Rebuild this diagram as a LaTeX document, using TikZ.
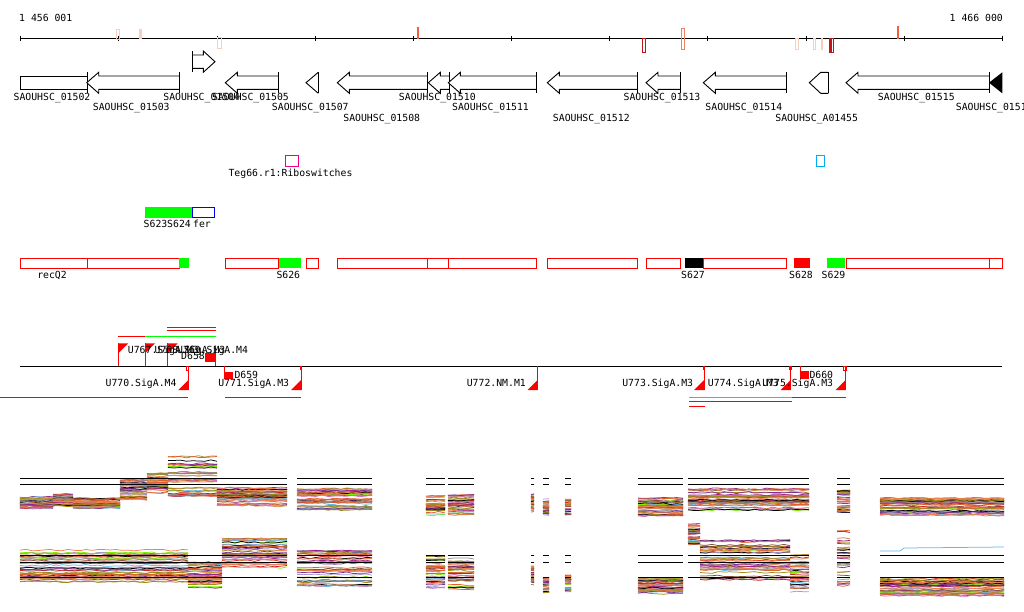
\documentclass[tikz,border=0pt]{standalone}
\usepackage{fontspec}
\setmonofont{DejaVu Sans Mono}
\usetikzlibrary{positioning}

\definecolor{peach}{HTML}{F6CFBF}
\definecolor{tickred}{HTML}{F06040}
\definecolor{darkred}{HTML}{C01818}
\definecolor{salmon}{HTML}{F08060}
\definecolor{opred}{HTML}{FF0000}
\definecolor{opgreen}{HTML}{00FF00}
\definecolor{exOrange}{HTML}{E0602C}
\definecolor{exOlive}{HTML}{9C8A1C}
\definecolor{exGreen}{HTML}{7CF000}
\definecolor{exMagenta}{HTML}{A0208C}
\definecolor{exLavender}{HTML}{A898D0}
\definecolor{exSky}{HTML}{60B8F0}
\definecolor{exBrown}{HTML}{8C4C3C}
\definecolor{exPink}{HTML}{D070B0}
\definecolor{exNavy}{HTML}{202050}
\definecolor{exRed}{HTML}{D02020}
\definecolor{exKhaki}{HTML}{B09040}
\definecolor{exGray}{HTML}{909090}
\definecolor{exCoral}{HTML}{F08050}
\definecolor{exPurple}{HTML}{803090}

\tikzset{
  lbl/.style={font=\ttfamily\fontsize{9.8}{11}\selectfont, inner sep=0pt, anchor=base},
  gene/.style={draw=black, line width=0.9pt, fill=white},
  axisline/.style={black, line width=0.9pt},
  prom/.style={opred, line width=0.9pt},
  opbox/.style={draw=opred, line width=0.9pt},
  expr/.style={line width=0.75pt, line join=round},
  refline/.style={black, line width=1pt}
}

\newcommand{\revgene}[2]{%
  \draw[gene] (#2,76) -- (#1+12,76) -- (#1+12,72.3) -- (#1,82.7) -- (#1+12,93.3) -- (#1+12,89.3) -- (#2,89.3);
  \draw[gene] (#2,72.3) -- (#2,93.3);
}
\newcommand{\fwdprom}[1]{%
  \draw[prom] (#1,366) -- (#1,343.3);
  \fill[opred] (#1,343.3) -- (#1+10,343.3) -- (#1,353.3) -- cycle;
}
\newcommand{\revprom}[1]{%
  \draw[prom] (#1,366) -- (#1,390);
  \fill[opred] (#1,390) -- (#1-10,390) -- (#1,380) -- cycle;
}
\def\exprcolors{exOrange,exOlive,exGreen,exMagenta,exLavender,exSky,exBrown,exPink,exNavy,exRed,exKhaki,exOrange,exOlive,exGray,black,exCoral,exOrange,exPurple,exOlive,exCoral}
\newcommand{\exprband}[4]{%
  \pgfmathtruncatemacro{\npts}{max(1,(#2-#1)/6)}
  \foreach \rep in {1,2} {
    \foreach \col in \exprcolors {
      \pgfmathsetmacro{\lev}{#3+rnd*(#4-#3)}
      \draw[expr,\col] (#1,\lev) \foreach \k in {1,...,\npts} { -- ({#1+\k*(#2-#1)/\npts},{\lev+0.9*rand}) };
    }
  }
}

\begin{document}
\begin{tikzpicture}[x=1pt,y=-1pt]
  \useasboundingbox[fill=white] (0,0) rectangle (1024,611);
  \pgfmathsetseed{17}

  \node[lbl, anchor=base west] (start) at (19,21) {1 456 001};
  \node[lbl, anchor=base east] (stop) at (1003,21) {1 466 000};
  \draw[axisline] (20.7,38) -- (1002.3,38);
  \foreach \t in {0,...,10}
    \draw[axisline] ({20.7+\t*98.16},35.5) -- ({20.7+\t*98.16},40.7);

  \draw[peach, line width=0.9pt] (116.7,29) rectangle (119,39);
  \fill[peach] (139.3,29) rectangle (141.5,39);
  \draw[peach, line width=0.9pt] (217.7,37) rectangle (221.3,48);
  \fill[tickred] (416.5,27) rectangle (418.7,39);
  \draw[darkred, line width=0.9pt] (642,38) rectangle (645,52.5);
  \draw[salmon, line width=0.9pt] (681,28) rectangle (684,49);
  \draw[peach, line width=0.9pt] (795,38) rectangle (798,49);
  \draw[peach, line width=0.9pt] (813,38) rectangle (815.3,49);
  \draw[peach, line width=0.9pt] (821,38) rectangle (822.7,49);
  \fill[darkred] (828.5,38) rectangle (830.5,52.5);
  \draw[darkred, line width=0.9pt] (831,38) rectangle (833.3,52.5);
  \fill[tickred] (896.7,26) rectangle (898.7,39);

  \draw[gene] (20.7,76) rectangle (87.3,89.3);
  \draw[gene] (87.3,72.3) -- (87.3,93.3);
  \revgene{86.7}{179.3}
  \draw[gene] (192.7,55) -- (203.3,55) -- (203.3,51) -- (215,61.7) -- (203.3,72.3) -- (203.3,68.3) -- (192.7,68.3);
  \draw[gene] (192.7,51) -- (192.7,72.3);
  \revgene{225.3}{278.3}
  \draw[gene] (318.3,72.3) -- (306,82.7) -- (318.3,93.3);
  \draw[gene] (318.3,72.3) -- (318.3,93.3);
  \revgene{337.3}{427.7}
  \revgene{428.3}{449.3}
  \revgene{448.3}{536}
  \revgene{547.3}{637.3}
  \revgene{646}{680}
  \revgene{703.3}{786.7}
  \draw[gene] (828.3,72.3) -- (820.7,72.3) -- (809.3,82.7) -- (820.7,93.3) -- (828.3,93.3);
  \draw[gene] (828.3,72.3) -- (828.3,93.3);
  \revgene{846}{989}
  \fill[black] (1002.3,72.3) -- (989,82.7) -- (1002.3,93.3) -- cycle;

  \node[lbl] (g01502) at (52,100.7) {SAOUHSC\_01502};
  \node[lbl] (g01503) at (131.3,110) {SAOUHSC\_01503};
  \node[lbl] (g01504) at (201.7,100.7) {SAOUHSC\_01504};
  \node[lbl] (g01505) at (250.5,100.7) {SAOUHSC\_01505};
  \node[lbl] (g01507) at (310.3,110) {SAOUHSC\_01507};
  \node[lbl] (g01508) at (381.7,121.7) {SAOUHSC\_01508};
  \node[lbl] (g01510) at (437.3,100.7) {SAOUHSC\_01510};
  \node[lbl] (g01511) at (490.5,110) {SAOUHSC\_01511};
  \node[lbl] (g01512) at (591.3,121.7) {SAOUHSC\_01512};
  \node[lbl] (g01513) at (662,100.7) {SAOUHSC\_01513};
  \node[lbl] (g01514) at (743.8,110) {SAOUHSC\_01514};
  \node[lbl] (gA01455) at (816.7,121.7) {SAOUHSC\_A01455};
  \node[lbl] (g01515) at (916.3,100.7) {SAOUHSC\_01515};
  \node[lbl] (g01516) at (994.2,110) {SAOUHSC\_01516};

  \draw[magenta, line width=0.9pt] (285,155) rectangle (298.7,166);
  \node[lbl] (teg66) at (290.5,176) {Teg66.r1:Riboswitches};
  \draw[cyan, line width=0.9pt] (816.7,155) rectangle (824,166);

  \fill[opgreen] (145,207) rectangle (192.3,217.7);
  \draw[blue, line width=0.9pt] (192.3,207) rectangle (214.7,217.7);
  \node[lbl] (s623) at (155.5,227.3) {S623};
  \node[lbl] (s624) at (179,227.3) {S624};
  \node[lbl] (fer) at (202,227.3) {fer};

  \draw[opbox] (20.7,258.3) rectangle (87.3,268.3);
  \draw[opbox] (87.3,258.3) rectangle (179.3,268.3);
  \fill[opgreen] (179.3,258.3) rectangle (189,268.3);
  \draw[opbox] (225.3,258.3) rectangle (278.7,268.3);
  \fill[opgreen] (278.7,258.3) rectangle (301,268.3);
  \draw[opbox] (306,258.3) rectangle (318.3,268.3);
  \draw[opbox] (337.3,258.3) rectangle (427.7,268.3);
  \draw[opbox] (427.7,258.3) rectangle (448.3,268.3);
  \draw[opbox] (448.3,258.3) rectangle (536,268.3);
  \draw[opbox] (547.3,258.3) rectangle (637.3,268.3);
  \draw[opbox] (646,258.3) rectangle (680,268.3);
  \fill[black] (685,258.3) rectangle (703.3,268.3);
  \draw[opbox] (703.3,258.3) rectangle (786.7,268.3);
  \fill[opred] (794.3,258.3) rectangle (810,268.3);
  \fill[opgreen] (827.3,258.3) rectangle (845,268.3);
  \draw[opbox] (846.7,258.3) rectangle (989,268.3);
  \draw[opbox] (989,258.3) rectangle (1002.3,268.3);
  \node[lbl] (recq2) at (52,278) {recQ2};
  \node[lbl] (s626) at (288.3,278.3) {S626};
  \node[lbl] (s627) at (693,278.3) {S627};
  \node[lbl] (s628) at (801,278.3) {S628};
  \node[lbl] (s629) at (833.5,278.3) {S629};

  \draw[prom] (166.7,327.3) -- (215.7,327.3);
  \draw[prom] (166.7,330.7) -- (215.7,330.7);
  \draw[prom] (118.3,336) -- (145,336);
  \draw[opgreen, line width=0.9pt] (145,336) -- (215.7,336);
  \draw[axisline] (20,366) -- (1002.3,366);
  \fwdprom{118.3}
  \fwdprom{145}
  \fwdprom{167.7}
  \node[lbl, anchor=base west] (u767) at (127.7,353.3) {U767.SigA.M3};
  \node[lbl, anchor=base west] (u768) at (154.4,353.3) {U768.SigA.M3};
  \node[lbl, anchor=base west] (u769) at (177,353.3) {U769.SigA.M4};
  \draw[prom] (215,353.3) -- (215,366);
  \fill[opred] (205,353.3) rectangle (215,362.3);
  \node[lbl, anchor=base east] (d658) at (205,359.3) {D658};
  \draw[prom] (224,366) -- (224,371.7);
  \fill[opred] (224,371.7) rectangle (233.3,379.3);
  \node[lbl, anchor=base west] (d659) at (234.3,378.3) {D659};
  \draw[prom] (800,366) -- (800,371);
  \fill[opred] (800,370.7) rectangle (809.3,379.3);
  \node[lbl, anchor=base west] (d660) at (809.3,378.3) {D660};

  \revprom{188.3}
  \revprom{301}
  \revprom{537.7}
  \revprom{704}
  \revprom{790.7}
  \revprom{845.7}
  \draw[opred, line width=0.8pt] (186,366) rectangle (188.3,370);
  \fill[opred] (299.5,366) rectangle (301.5,370);
  \fill[opred] (702.7,366) rectangle (705,370);
  \fill[opred] (789.3,366) rectangle (791.7,370);
  \draw[opred, line width=0.8pt] (843.3,366) rectangle (846.7,370);
  \node[lbl, anchor=base east] (u770) at (176.7,386.7) {U770.SigA.M4};
  \node[lbl, anchor=base east] (u771) at (289.3,386.7) {U771.SigA.M3};
  \node[lbl, anchor=base east] (u772) at (526,386.7) {U772.NM.M1};
  \node[lbl, anchor=base east] (u773) at (693.3,386.7) {U773.SigA.M3};
  \node[lbl, anchor=base west] (u774) at (707.7,386.7) {U774.SigA.M3};
  \node[lbl, anchor=base east] (u775) at (833.3,386.7) {U775.SigA.M3};
  \draw[prom] (0,397.3) -- (188.3,397.3);
  \draw[prom] (225.3,397.3) -- (301,397.3);
  \draw[opgreen, line width=0.9pt] (689,397.3) -- (791.7,397.3);
  \draw[prom] (791.7,397.3) -- (845.7,397.3);
  \draw[prom] (689,401.7) -- (791.7,401.7);
  \draw[prom] (689,406) -- (705,406);

  \exprband{20}{53}{497}{509}
  \exprband{53}{73}{494}{506}
  \exprband{73}{120}{498}{508}
  \exprband{120}{147}{480}{500}
  \exprband{147}{168}{473}{493}
  \exprband{168}{217}{456}{496}
  \exprband{217}{287}{487}{506}
  \exprband{297}{372}{488}{510}
  \exprband{426}{445}{495}{515}
  \exprband{448}{474}{495}{515}
  \exprband{531}{534}{494}{512}
  \exprband{543}{549}{499}{515}
  \exprband{565}{571}{499}{515}
  \exprband{638}{683}{498}{516}
  \exprband{688}{809}{488}{510}
  \exprband{837}{850}{490}{512}
  \exprband{880}{1004}{497}{516}

  \exprband{20}{188}{550}{582}
  \exprband{188}{222}{562}{588}
  \exprband{222}{287}{538}{568}
  \exprband{297}{372}{550}{586}
  \exprband{426}{445}{556}{588}
  \exprband{448}{474}{558}{590}
  \exprband{531}{534}{566}{585}
  \exprband{543}{549}{577}{593}
  \exprband{565}{571}{575}{592}
  \exprband{638}{683}{578}{594}
  \exprband{688}{700}{524}{545}
  \exprband{700}{790}{540}{580}
  \exprband{790}{809}{555}{593}
  \exprband{837}{850}{530}{590}
  \exprband{880}{1004}{578}{596}
  \draw[expr,exSky] (880,551) -- (900,551) -- (904,548) -- (1004,547);

  \foreach \a/\b in {20/287,297/372,426/445,448/474,531/534,543/549,565/571,638/683,688/809,837/850,880/1004} {
    \draw[refline] (\a,478.3) -- (\b,478.3);
    \draw[refline] (\a,484) -- (\b,484);
    \draw[refline] (\a,555.7) -- (\b,555.7);
    \draw[refline] (\a,562.3) -- (\b,562.3);
    \draw[refline] (\a,577.3) -- (\b,577.3);
  }
\end{tikzpicture}
\end{document}
